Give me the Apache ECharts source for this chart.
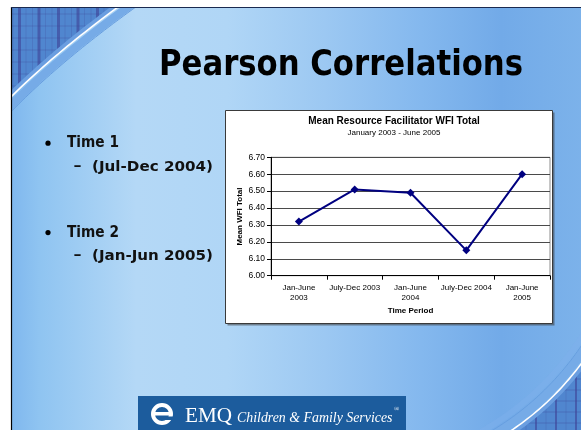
<!DOCTYPE html>
<html><head><meta charset="utf-8">
<script src="https://cdn.jsdelivr.net/npm/echarts@6/dist/echarts.min.js"></script>
<style>html,body{margin:0;padding:0;background:#fff;}#c{width:581px;height:430px;}</style>
</head><body><div id="c"></div>
<script>
// ---- data ----
const categories = ['Jan-June\n2003', 'July-Dec 2003', 'Jan-June\n2004', 'July-Dec 2004', 'Jan-June\n2005'];
const meanWFI = [6.32, 6.51, 6.49, 6.15, 6.60];
const yTicks = ['6.00', '6.10', '6.20', '6.30', '6.40', '6.50', '6.60', '6.70'];
const chartTitle = 'Mean Resource Facilitator WFI Total';
const chartSubtitle = 'January 2003 - June 2005';
const yName = 'Mean WFI Total';
const xName = 'Time Period';
const slideTitle = 'Pearson Correlations';
const bulletMain = ['Time 1', 'Time 2'];
const bulletSub = ['(Jul-Dec 2004)', '(Jan-Jun 2005)'];
const logoMark = 'EMQ';
const logoText = 'Children & Family Services';

// ---- helpers ----
const mctx = document.createElement('canvas').getContext('2d');
function fitScale(text, weight, size, family, target) {
  mctx.font = weight + ' ' + size + 'px ' + family;
  return target / mctx.measureText(text).width;
}
function bez(p0, c, p2, t, off, n) {
  const u = 1 - t;
  return [u*u*p0[0] + 2*t*u*c[0] + t*t*p2[0] + off*n[0],
          u*u*p0[1] + 2*t*u*c[1] + t*t*p2[1] + off*n[1]];
}
function curve(p0, c, p2, off, n, t0, t1) {
  const pts = [];
  const steps = 40;
  for (let i = 0; i <= steps; i++) pts.push(bez(p0, c, p2, t0 + (t1 - t0) * i / steps, off, n));
  return pts;
}
const TL = {p0: [11, 97], c: [54, 54], p2: [118, 7], n: [0.644, 0.765]};
const BR = {p0: [581, 364], c: [552, 403], p2: [512, 430], n: [-0.691, -0.722]};

const G = [];
let zc = -100;
function add(el) { el.z = zc++; el.silent = true; G.push(el); }

// dark slide base
add({type: 'rect', shape: {x: 11, y: 7, width: 570, height: 423}, style: {fill: '#5086cf'}});
// grid pattern in corners
for (let x = 13, i = 0; x < 160; x += 6.5, i++) {
  add({type: 'line', shape: {x1: x, y1: 7, x2: x, y2: 130},
       style: {stroke: i % 3 === 1 ? 'rgba(55,45,130,0.45)' : 'rgba(70,90,170,0.3)', lineWidth: i % 3 === 1 ? 3 : 1}});
}
for (let y = 14, i = 0; y < 130; y += 12, i++) {
  add({type: 'line', shape: {x1: 11, y1: y, x2: 160, y2: y}, style: {stroke: 'rgba(60,70,150,0.3)', lineWidth: 1}});
}
for (let x = 486, i = 0; x < 585; x += 10, i++) {
  add({type: 'line', shape: {x1: x, y1: 340, x2: x, y2: 430},
       style: {stroke: i % 2 ? 'rgba(55,45,130,0.45)' : 'rgba(70,90,170,0.3)', lineWidth: i % 2 ? 2 : 1}});
}
for (let y = 346; y < 432; y += 11) {
  add({type: 'line', shape: {x1: 480, y1: y, x2: 581, y2: y}, style: {stroke: 'rgba(60,70,150,0.35)', lineWidth: 1}});
}
// light lens area
const lens = [].concat(
  curve(TL.p0, TL.c, TL.p2, 0, TL.n, 1.25, -0.25),
  [[-5, 440]],
  curve(BR.p0, BR.c, BR.p2, 0, BR.n, 1.25, -0.25),
  [[600, -30]]
);
add({type: 'polygon', shape: {points: lens}, style: {fill: {
  type: 'linear', x: 11, y: 0, x2: 581, y2: 0, global: true,
  colorStops: [
    {offset: 0, color: '#7fb7ee'}, {offset: 0.05, color: '#8fc4f1'},
    {offset: 0.22, color: '#b4d8f6'}, {offset: 0.38, color: '#b0d6f6'},
    {offset: 0.55, color: '#9cc8f2'}, {offset: 0.72, color: '#84b8ee'},
    {offset: 0.86, color: '#72aae8'}, {offset: 1, color: '#7cb2ea'}]
}}});
// bands along arcs
[TL, BR].forEach((A, k) => {
  if (k === 1) add({type: 'polyline', shape: {points: curve(A.p0, A.c, A.p2, 15, A.n, -0.25, 1.25)}, style: {stroke: 'rgba(125,175,235,0.5)', lineWidth: 6, fill: null}});
  add({type: 'polyline', shape: {points: curve(A.p0, A.c, A.p2, 6, A.n, -0.25, 1.25)}, style: {stroke: '#76abe7', lineWidth: 8, fill: null}});
  add({type: 'polyline', shape: {points: curve(A.p0, A.c, A.p2, 10.5, A.n, -0.25, 1.25)}, style: {stroke: '#679ee0', lineWidth: 1, fill: null}});
  add({type: 'polyline', shape: {points: curve(A.p0, A.c, A.p2, -2.5, A.n, -0.25, 1.25)}, style: {stroke: '#6a9ee0', lineWidth: 4, fill: null}});
  add({type: 'polyline', shape: {points: curve(A.p0, A.c, A.p2, 0, A.n, -0.25, 1.25)}, style: {stroke: '#ffffff', lineWidth: 1.6, fill: null}});
});
// page margins + slide border
add({type: 'rect', shape: {x: 0, y: 0, width: 11, height: 430}, style: {fill: '#fff'}});
add({type: 'rect', shape: {x: 0, y: 0, width: 581, height: 7}, style: {fill: '#fff'}});
add({type: 'line', shape: {x1: 11.5, y1: 7, x2: 11.5, y2: 430}, style: {stroke: '#000', lineWidth: 1.2}});
add({type: 'line', shape: {x1: 11, y1: 7.5, x2: 581, y2: 7.5}, style: {stroke: '#1a2a50', lineWidth: 1}});

// logo
add({type: 'rect', shape: {x: 138, y: 396, width: 268, height: 40}, style: {fill: '#1c5c9d'}});
add({type: 'ring', shape: {cx: 162, cy: 414, r: 11, r0: 7}, style: {fill: '#fff'}});
add({type: 'rect', shape: {x: 152, y: 412, width: 20, height: 3.5}, style: {fill: '#fff'}});
add({type: 'rect', shape: {x: 165, y: 416.5, width: 9, height: 3.5}, style: {fill: '#1c5c9d'}});

// chart box (shadow + box)
add({type: 'rect', shape: {x: 227.5, y: 112.5, width: 327, height: 213}, style: {fill: 'rgba(60,60,60,0.55)'}});
add({type: 'rect', shape: {x: 225.5, y: 110.5, width: 327, height: 213},
     style: {fill: '#fff', stroke: '#3a3a3a', lineWidth: 1}});

// texts
const SANS = '"DejaVu Sans"';
function txt(text, x, y, weight, size, family, target, fill, extra) {
  const el = {type: 'text', x: x, y: y, z: 10, silent: true,
    scaleX: target ? fitScale(text, weight, size, family, target) : 1,
    style: Object.assign({text: text, fontWeight: weight, fontSize: size, fontFamily: family, fill: fill || '#000',
      textAlign: 'left', verticalAlign: 'middle', textVerticalAlign: 'middle'}, extra || {})};
  G.push(el);
}
txt(slideTitle, 159, 65.5, 'bold', 36, SANS, 364);
const mainY = [143.2, 232.6];
const subY = [167, 256.2];
bulletMain.forEach((t, i) => {
  G.push({type: 'circle', z: 10, silent: true, shape: {cx: 48, cy: mainY[i], r: 2.6}, style: {fill: '#000'}});
  txt(t, 67, mainY[i], 'bold', 16, SANS, 52, '#111');
  txt('\u2013', 73.5, subY[i] - 0.5, 'bold', 14, SANS, 8, '#111');
  txt(bulletSub[i], 92, subY[i], 'bold', 14, SANS, 121, '#111');
});
txt(logoMark, 185, 416, 'normal', 22, '"Liberation Serif"', 47, '#fff');
txt(logoText, 237, 418.6, 'normal', 14, '"Liberation Serif"', 156, '#fff', {fontStyle: 'italic'});
txt('\u00AE', 394, 409, 'normal', 7, '"Liberation Serif"', 0, '#fff');
// chart title
G.push({type: 'text', x: 394, y: 121, z: 10, silent: true, style: {text: chartTitle, fontWeight: 'bold', fontSize: 10, fontFamily: '"Liberation Sans"', fill: '#000', textAlign: 'center', verticalAlign: 'middle', textVerticalAlign: 'middle'}});
G.push({type: 'text', x: 394, y: 132.3, z: 10, silent: true, style: {text: chartSubtitle, fontSize: 8, fontFamily: '"Liberation Sans"', fill: '#000', textAlign: 'center', verticalAlign: 'middle', textVerticalAlign: 'middle'}});

const yStep = Math.round((parseFloat(yTicks[1]) - parseFloat(yTicks[0])) * 100) / 100;
const FONT = '"Liberation Sans"';
const chart = echarts.init(document.getElementById('c'), null, {renderer: 'canvas'});
chart.setOption({
  animation: false,
  backgroundColor: '#fff',
  graphic: {elements: G},
  grid: {left: 271, top: 157.3, width: 279, height: 118.4, show: true, borderColor: '#8c8c8c', borderWidth: 1, backgroundColor: 'transparent', z: 0},
  xAxis: {
    type: 'category', data: categories, boundaryGap: true,
    axisLine: {lineStyle: {color: '#000', width: 1}},
    axisTick: {show: true, length: 4, lineStyle: {color: '#000'}},
    axisLabel: {interval: 0, fontSize: 8, fontFamily: FONT, color: '#000', lineHeight: 10, margin: 7},
    name: xName, nameLocation: 'middle', nameGap: 31,
    nameTextStyle: {fontSize: 8, fontWeight: 'bold', fontFamily: FONT, color: '#000'}
  },
  yAxis: {
    type: 'value', min: parseFloat(yTicks[0]), max: parseFloat(yTicks[yTicks.length - 1]), interval: yStep,
    axisLine: {show: true, lineStyle: {color: '#000', width: 1}},
    axisTick: {show: true, length: 4, lineStyle: {color: '#000'}},
    splitLine: {show: true, lineStyle: {color: '#4a4a4a', width: 1}},
    axisLabel: {fontSize: 8.5, fontFamily: FONT, color: '#000', margin: 6, formatter: v => v.toFixed(2)},
    name: yName, nameLocation: 'middle', nameGap: 27, nameRotate: 90,
    nameTextStyle: {fontSize: 8, fontWeight: 'bold', fontFamily: FONT, color: '#000'}
  },
  series: [{
    type: 'line', data: meanWFI, symbol: 'diamond', symbolSize: 8,
    lineStyle: {color: '#000080', width: 2}, itemStyle: {color: '#000080'}, z: 5
  }]
});
</script></body></html>
